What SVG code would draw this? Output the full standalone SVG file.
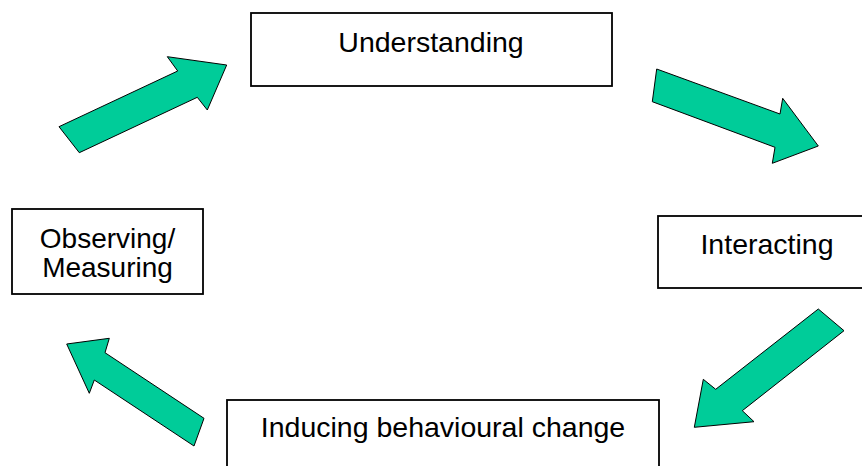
<svg xmlns="http://www.w3.org/2000/svg" width="862" height="466" viewBox="0 0 862 466">
  <style>
    .box { fill: #ffffff; stroke: #000000; stroke-width: 1.8; }
    .label { font-family: "Liberation Sans", Arial, sans-serif; font-size: 28.5px; fill: #000000; text-anchor: middle; }
    .small { font-size: 28px; }
    .arrow { fill: #00cc99; stroke: #000000; stroke-width: 1; stroke-linejoin: miter; }
  </style>
  <rect width="862" height="466" fill="#ffffff"/>

  <g id="understanding">
    <rect class="box" x="251" y="13" width="361" height="73"/>
    <text class="label" x="431" y="52">Understanding</text>
  </g>

  <g id="interacting">
    <rect class="box" x="658" y="216" width="210" height="72"/>
    <text class="label" x="767" y="254">Interacting</text>
  </g>

  <g id="inducing">
    <rect class="box" x="227" y="400" width="432" height="80"/>
    <text class="label" x="443" y="437">Inducing behavioural change</text>
  </g>

  <g id="observing">
    <rect class="box" x="12" y="209" width="191" height="85"/>
    <text class="label small" x="107.5" y="247.5">Observing/</text>
    <text class="label small" x="107.5" y="276.5">Measuring</text>
  </g>

  <g id="connectors">
    <polygon class="arrow" points="59,126.7 177.7,71 167.3,56.7 226.7,65 207.3,110 197.3,97.3 79.3,152.7"/>
    <polygon class="arrow" points="656.7,69 780,114 782.7,98.3 818.3,146 772.3,163.3 775,147.3 652.3,101.7"/>
    <polygon class="arrow" points="818.3,309 844,330.7 742.3,410.7 754,421.7 694.3,427.3 703.3,379.3 715.7,389.3"/>
    <polygon class="arrow" points="204,418.3 194,446 94.3,380 89.3,393.3 66.7,344 109.3,338.3 105,352.7"/>
  </g>
</svg>
